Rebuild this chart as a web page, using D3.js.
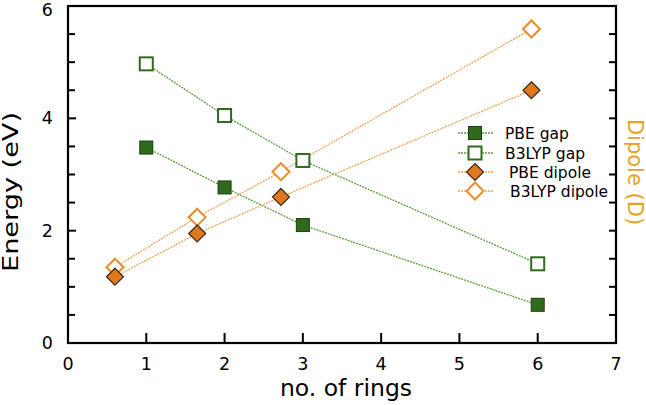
<!DOCTYPE html>
<html><head><meta charset="utf-8">
<script src="https://cdn.jsdelivr.net/npm/d3@7"></script>
<style>body{margin:0;background:#fff;} text{font-family:"DejaVu Sans",sans-serif;}</style>
</head><body><svg id="c" width="646" height="405"></svg>
<script>
const gapX = [1, 2, 3, 6];
const pbeGap = [3.48, 2.77, 2.10, 0.68];
const b3lypGap = [4.97, 4.05, 3.25, 1.41];
const dipX = [0.6, 1.65, 2.72, 5.92];
const pbeDipole = [1.18, 1.95, 2.60, 4.50];
const b3lypDipole = [1.35, 2.24, 3.05, 5.59];
const xTicks = [0,1,2,3,4,5,6,7];
const yTicks = [0,2,4,6];
const legendLabels = ["PBE gap","B3LYP gap","PBE dipole","B3LYP dipole"];

const svg = d3.select("#c");
const L=68, R=616, T=6, B=343;
const x = d3.scaleLinear().domain([0,7]).range([L,R]);
const y = d3.scaleLinear().domain([0,6]).range([B,T]);
const y2 = d3.scaleLinear().domain([0,6]).range([B,T]);

const green="#2f6b1c", greenLine="#5f9e40", orange="#e07820", orangeOpen="#f08c28", orangeLine="#f0a458";

svg.append("rect").attr("x",L).attr("y",T).attr("width",R-L).attr("height",B-T)
  .attr("fill","none").attr("stroke","#000").attr("stroke-width",2.2);

const minor = d3.range(0,6.01,0.5);
svg.append("g").selectAll("line").data(minor).join("line")
  .attr("x1",L).attr("x2",d=>L+(d%2===0?8:7)).attr("y1",d=>y(d)).attr("y2",d=>y(d))
  .attr("stroke","#000").attr("stroke-width",2);
svg.append("g").selectAll("line").data(minor).join("line")
  .attr("x1",R).attr("x2",R-7).attr("y1",d=>y2(d)).attr("y2",d=>y2(d))
  .attr("stroke","#000").attr("stroke-width",2);
svg.append("g").selectAll("line").data(xTicks).join("line")
  .attr("x1",d=>x(d)).attr("x2",d=>x(d)).attr("y1",B).attr("y2",B-10)
  .attr("stroke","#000").attr("stroke-width",2);

svg.append("g").selectAll("text").data(yTicks).join("text")
  .attr("x",L-15).attr("y",d=>Math.max(y(d)+6,16)).attr("text-anchor","end")
  .attr("font-size",17.5).text(d=>d);
svg.append("g").selectAll("text").data(xTicks).join("text")
  .attr("x",d=>x(d)).attr("y",B+27).attr("text-anchor","middle")
  .attr("font-size",17.5).text(d=>d);

svg.append("text").attr("transform",`translate(18,192) rotate(-90)`)
  .attr("text-anchor","middle").attr("font-size",21)
  .attr("textLength",160).attr("lengthAdjust","spacingAndGlyphs").text("Energy (eV)");
svg.append("text").attr("x",346).attr("y",396).attr("text-anchor","middle")
  .attr("font-size",23.5).text("no. of rings");
svg.append("text").attr("transform",`translate(628,172) rotate(90)`)
  .attr("text-anchor","middle").attr("font-size",21).attr("fill","#e8a21e").text("Dipole (D)");

const line = (xs, ys, sy) => d3.line().x((d,i)=>x(xs[i])).y(d=>sy(d))(ys);
function series(xs, ys, sy, lc){
  svg.append("path").attr("d",line(xs,ys,sy)).attr("fill","none")
    .attr("stroke",lc).attr("stroke-width",1.3).attr("stroke-dasharray","2,1");
}
series(gapX,pbeGap,y,greenLine);
series(gapX,b3lypGap,y,greenLine);
series(dipX,pbeDipole,y2,orangeLine);
series(dipX,b3lypDipole,y2,orangeLine);

function square(g,cx,cy,filled){
  g.append("rect").attr("x",cx-6.5).attr("y",cy-6.5).attr("width",13).attr("height",13)
   .attr("fill",filled?green:"#fff").attr("stroke",filled?"#1e3d12":green).attr("stroke-width",filled?1:2);
}
function diamond(g,cx,cy,filled){
  const s=8.5;
  g.append("path").attr("d",`M${cx},${cy-s}L${cx+s},${cy}L${cx},${cy+s}L${cx-s},${cy}Z`)
   .attr("fill",filled?orange:"#fff").attr("stroke",filled?"#3a2a1a":orangeOpen).attr("stroke-width",filled?1.2:2);
}
const mg = svg.append("g");
gapX.forEach((v,i)=>square(mg,x(v),y(b3lypGap[i]),false));
gapX.forEach((v,i)=>square(mg,x(v),y(pbeGap[i]),true));
dipX.forEach((v,i)=>diamond(mg,x(v),y2(b3lypDipole[i]),false));
dipX.forEach((v,i)=>diamond(mg,x(v),y2(pbeDipole[i]),true));

const lg = svg.append("g");
const rows=[133,153,172,191];
const lcols=[greenLine,greenLine,orangeLine,orangeLine];
const txs=[505,505,509,510];
legendLabels.forEach((lab,i)=>{
  lg.append("line").attr("x1",458).attr("x2",493).attr("y1",rows[i]).attr("y2",rows[i])
    .attr("stroke",lcols[i]).attr("stroke-width",1.3).attr("stroke-dasharray","2,1");
  if(i<2) square(lg,475,rows[i],i===0); else diamond(lg,475,rows[i],i===2);
  lg.append("text").attr("x",txs[i]).attr("y",rows[i]+5.5).attr("font-size",15.5).text(lab);
});
</script></body></html>
